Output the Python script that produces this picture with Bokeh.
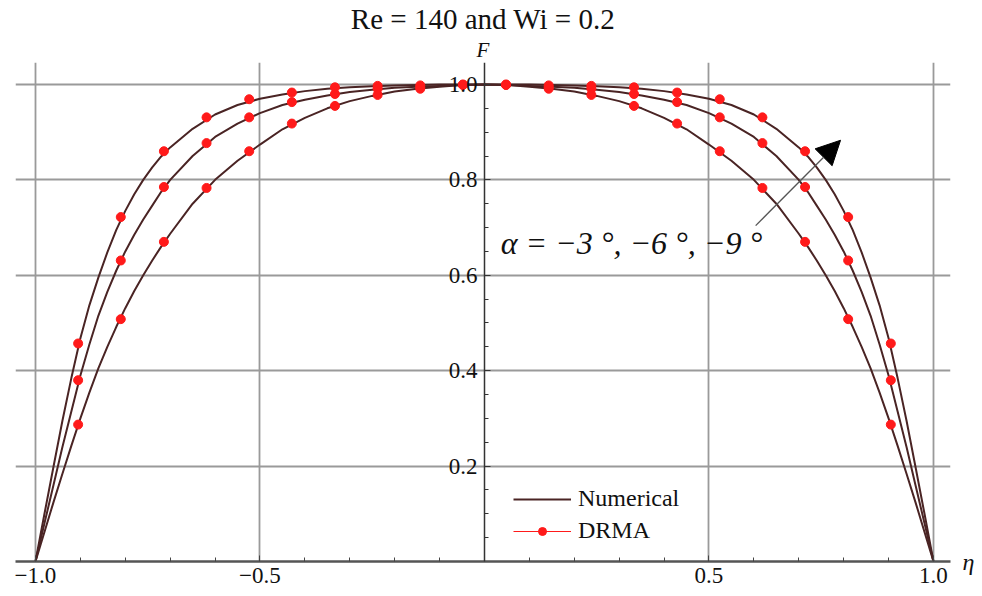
from bokeh.plotting import figure
from bokeh.models import (Range1d, FixedTicker, Label, Arrow, NormalHead, Legend,
                          LegendItem, Title, LinearAxis)
from bokeh.core.properties import value
from bokeh.embed import file_html
from bokeh.resources import INLINE

TITLE = "Re = 140 and Wi = 0.2"
Y_LABEL = "F"
X_LABEL = "η"
ALPHA_TEXT = "α = −3 °, −6 °, −9 °"
SERIES_NAMES = ["Numerical", "DRMA"]

# ---- DRMA points (left half; profile is symmetric about eta = 0) ----
eta_drma_left = [-0.905, -0.810, -0.714, -0.619, -0.524, -0.429, -0.333, -0.238, -0.143, -0.048]
F_drma_a9 = [0.457, 0.722, 0.860, 0.931, 0.969, 0.983, 0.994, 0.997, 0.998, 1.000]
F_drma_a6 = [0.380, 0.631, 0.785, 0.877, 0.931, 0.963, 0.980, 0.991, 0.994, 0.999]
F_drma_a3 = [0.287, 0.508, 0.670, 0.783, 0.860, 0.918, 0.955, 0.978, 0.991, 0.999]

# ---- Numerical curves (left half) ----
eta_num_left = [-1.0, -0.98, -0.96, -0.94, -0.92, -0.90, -0.88, -0.86, -0.84, -0.82,
                -0.80, -0.78, -0.76, -0.74, -0.72, -0.70, -0.65, -0.60, -0.55, -0.50,
                -0.45, -0.40, -0.35, -0.30, -0.25, -0.20, -0.15, -0.10, -0.05, 0.0]
F_num_a9 = [0.0, 0.100, 0.198, 0.295, 0.385, 0.468, 0.537, 0.595, 0.648, 0.695,
            0.735, 0.770, 0.800, 0.826, 0.849, 0.868, 0.907, 0.937, 0.957, 0.970,
            0.979, 0.986, 0.991, 0.994, 0.996, 0.998, 0.999, 1.0, 1.0, 1.0]
F_num_a6 = [0.0, 0.080, 0.160, 0.240, 0.315, 0.390, 0.455, 0.515, 0.565, 0.610,
            0.650, 0.685, 0.717, 0.746, 0.775, 0.800, 0.850, 0.890, 0.918, 0.940,
            0.957, 0.968, 0.977, 0.984, 0.989, 0.993, 0.995, 0.997, 0.999, 1.0]
F_num_a3 = [0.0, 0.062, 0.124, 0.184, 0.243, 0.300, 0.354, 0.405, 0.450, 0.492,
            0.531, 0.567, 0.600, 0.631, 0.660, 0.687, 0.750, 0.800, 0.840, 0.874,
            0.906, 0.930, 0.950, 0.965, 0.976, 0.985, 0.991, 0.995, 0.999, 1.0]

# ---- ticks ----
x_ticks = [-1.0, -0.5, 0.5, 1.0]
x_tick_labels = ["−1.0", "−0.5", "0.5", "1.0"]
x_minor = [-0.9, -0.8, -0.7, -0.6, -0.4, -0.3, -0.2, -0.1, 0.0, 0.1, 0.2, 0.3, 0.4,
           0.6, 0.7, 0.8, 0.9]
y_ticks = [0.2, 0.4, 0.6, 0.8, 1.0]
y_tick_labels = ["0.2", "0.4", "0.6", "0.8", "1.0"]
y_minor = [0.05, 0.1, 0.15, 0.25, 0.3, 0.35, 0.45, 0.5, 0.55, 0.65, 0.7, 0.75,
           0.85, 0.9, 0.95]

# annotation geometry (data units)
ALPHA_POS = (0.036, 0.667)
ARROW_START = (0.604, 0.704)
ARROW_END = (0.793, 0.883)

X_RANGE = (-1.0445, 1.0379)
Y_RANGE = (0.0, 1.046)

SERIF = "Liberation Serif"
LINE_COLOR = "#4a2424"
DOT_COLOR = "#ff1a1a"
TEXT_COLOR = "#111111"


def mirror(xl, yl):
    xs = list(xl) + [-v for v in reversed(xl) if v != 0.0]
    ys = list(yl) + [y for v, y in zip(reversed(xl), reversed(yl)) if v != 0.0]
    return xs, ys


p = figure(width=982, height=596, output_backend="svg", toolbar_location=None,
           x_range=Range1d(*X_RANGE), y_range=Range1d(*Y_RANGE),
           min_border_left=15, min_border_right=32, min_border_top=62,
           min_border_bottom=35, outline_line_color=None)

p.title = Title(text=TITLE, align="center", text_font=SERIF, text_font_size="29px",
                text_font_style="normal", text_color=TEXT_COLOR, standoff=0)
p.add_layout(Title(text=Y_LABEL, align="center", text_font=SERIF, text_font_size="21px",
                   text_font_style="italic", text_color=TEXT_COLOR, standoff=2), "above")

# axes
xa = p.xaxis[0]
xa.ticker = FixedTicker(ticks=x_ticks, minor_ticks=x_minor)
xa.major_label_overrides = {t: l for t, l in zip(x_ticks, x_tick_labels)}
xa.major_label_text_font = SERIF
xa.major_label_text_font_size = "23px"
xa.major_label_text_color = TEXT_COLOR
xa.major_label_standoff = 6
xa.major_tick_in = 6
xa.major_tick_out = 0
xa.minor_tick_in = 4
xa.minor_tick_out = 0
xa.axis_line_color = "#555555"
xa.axis_line_width = 2.5
xa.major_tick_line_color = "#444444"
xa.minor_tick_line_color = "#444444"

ya = p.yaxis[0]
ya.fixed_location = 0
ya.ticker = FixedTicker(ticks=y_ticks, minor_ticks=y_minor)
ya.major_label_overrides = {t: "" for t in y_ticks}
ya.major_label_standoff = 0
ya.major_tick_in = 6
ya.major_tick_out = 0
ya.minor_tick_in = 4
ya.minor_tick_out = 0
ya.axis_line_color = "#333333"
ya.axis_line_width = 1.5
ya.major_tick_line_color = "#333333"
ya.minor_tick_line_color = "#333333"

# eta label at the right end of the horizontal axis (axis on the right, one labelled tick)
eta_axis = LinearAxis(ticker=FixedTicker(ticks=[0.0]), major_label_overrides={0.0: X_LABEL},
                      axis_line_color=None, major_tick_line_color=None,
                      minor_tick_line_color=None, major_tick_out=0, major_tick_in=0,
                      major_label_standoff=12,
                      major_label_text_font=SERIF, major_label_text_font_size="24px",
                      major_label_text_font_style="italic",
                      major_label_text_color=TEXT_COLOR)
p.add_layout(eta_axis, "right")

p.xgrid.grid_line_color = "#9a9a9a"
p.xgrid.grid_line_width = 1.8
p.ygrid.grid_line_color = "#9a9a9a"
p.ygrid.grid_line_width = 1.8

# numerical curves
num_renderers = []
for F in (F_num_a9, F_num_a6, F_num_a3):
    xs, ys = mirror(eta_num_left, F)
    r = p.line(xs, ys, line_color=LINE_COLOR, line_width=2)
    num_renderers.append(r)

# DRMA points
drma_x, drma_y = [], []
for F in (F_drma_a9, F_drma_a6, F_drma_a3):
    xs, ys = mirror(eta_drma_left, F)
    drma_x += xs
    drma_y += ys
drma_pts = p.scatter(drma_x, drma_y, size=9, fill_color=DOT_COLOR, line_color=DOT_COLOR)
xs0, ys0 = mirror(eta_drma_left, F_drma_a9)
drma_line = p.line(xs0, ys0, line_color=DOT_COLOR, line_width=1.2)
drma_line.visible = False

# y tick labels drawn next to the centred axis
p.text(x=[0.0] * len(y_ticks), y=y_ticks, text=y_tick_labels, x_offset=-7,
       text_align="right", text_baseline="middle", text_font=value(SERIF),
       text_font_size="23px", text_color=TEXT_COLOR)

# alpha annotation + arrow
p.add_layout(Label(x=ALPHA_POS[0], y=ALPHA_POS[1], text=ALPHA_TEXT, text_font=SERIF,
                   text_font_size="32px", text_font_style="italic",
                   text_baseline="middle", text_color=TEXT_COLOR))
p.add_layout(Arrow(end=NormalHead(size=24, fill_color="black", line_color="black"),
                   x_start=ARROW_START[0], y_start=ARROW_START[1],
                   x_end=ARROW_END[0], y_end=ARROW_END[1],
                   line_color="#555555", line_width=1.3))

legend = Legend(items=[LegendItem(label=SERIES_NAMES[0], renderers=[num_renderers[0]]),
                       LegendItem(label=SERIES_NAMES[1], renderers=[drma_line, drma_pts])],
                location=(498, 17), orientation="vertical",
                glyph_width=58, glyph_height=20, label_height=20, spacing=5,
                label_standoff=7, padding=0, margin=0,
                label_text_font=SERIF, label_text_font_size="24px",
                label_text_color=TEXT_COLOR,
                border_line_color=None, background_fill_alpha=0)
p.add_layout(legend)

open("out.html", "w").write(file_html(p, INLINE))
